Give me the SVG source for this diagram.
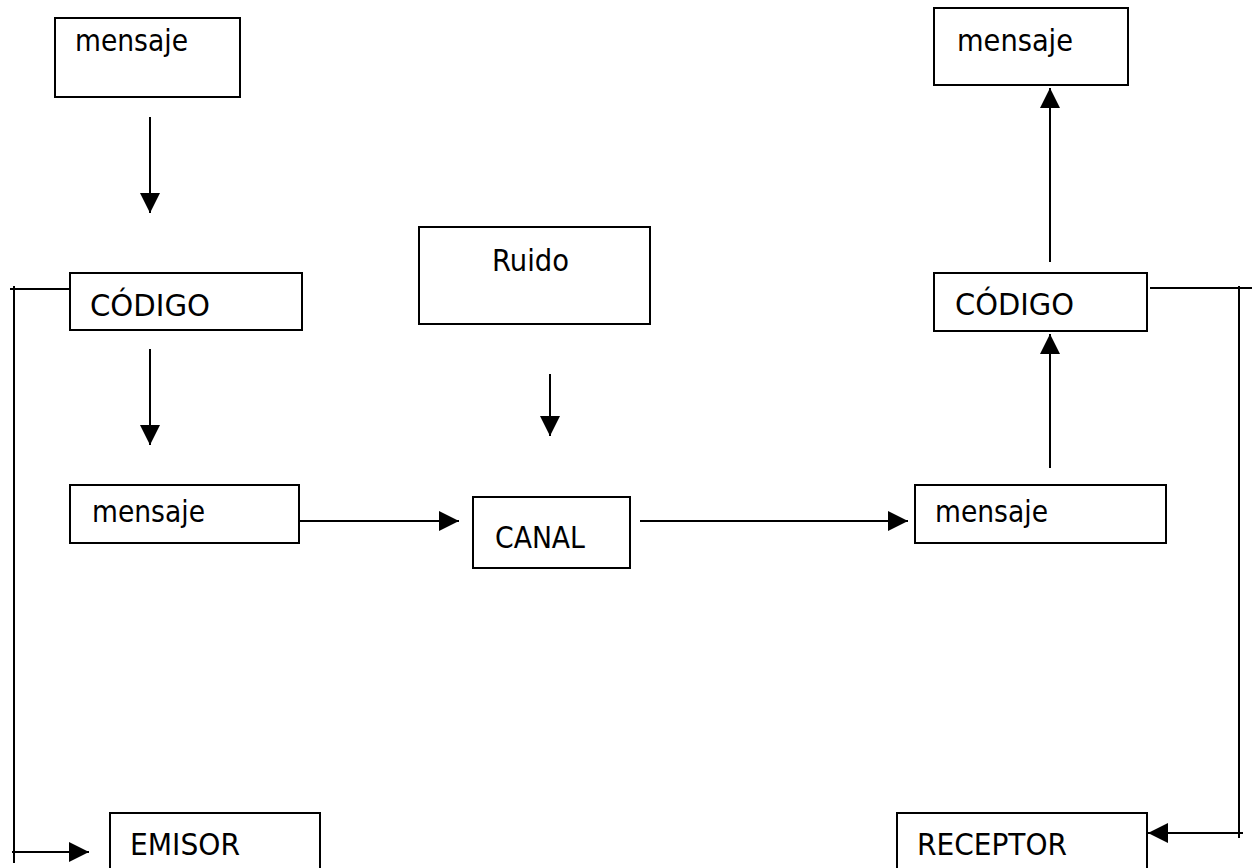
<svg xmlns="http://www.w3.org/2000/svg" width="1253" height="868" viewBox="0 0 1253 868">
<style>
.box{fill:#fff;stroke:#000;stroke-width:2}
.t{font-family:"DejaVu Sans","Liberation Sans",sans-serif;font-size:31px;fill:#000}
.c{stroke:#000;stroke-width:2;fill:none}
</style>
<defs>
<marker id="ah" markerUnits="userSpaceOnUse" markerWidth="20" markerHeight="20" refX="20" refY="10" orient="auto">
<path d="M0,0 L20,10 L0,20 z" fill="#000"/>
</marker>
</defs>
<rect width="1253" height="868" fill="#fff"/>
<g id="msg_tl"><rect class="box" x="55" y="18" width="185" height="79"/><text class="t" x="75" y="51" textLength="113" lengthAdjust="spacingAndGlyphs">mensaje</text></g>
<g id="cod_l"><rect class="box" x="70" y="273" width="232" height="57"/><text class="t" x="90" y="316" textLength="120" lengthAdjust="spacingAndGlyphs">CÓDIGO</text></g>
<g id="msg_ml"><rect class="box" x="70" y="485" width="229" height="58"/><text class="t" x="92" y="522" textLength="113" lengthAdjust="spacingAndGlyphs">mensaje</text></g>
<g id="ruido"><rect class="box" x="419" y="227" width="231" height="97"/><text class="t" x="492" y="271" textLength="77" lengthAdjust="spacingAndGlyphs">Ruido</text></g>
<g id="canal"><rect class="box" x="473" y="497" width="157" height="71"/><text class="t" x="495" y="548" textLength="90" lengthAdjust="spacingAndGlyphs">CANAL</text></g>
<g id="msg_mr"><rect class="box" x="915" y="485" width="251" height="58"/><text class="t" x="935" y="522" textLength="113" lengthAdjust="spacingAndGlyphs">mensaje</text></g>
<g id="cod_r"><rect class="box" x="934" y="273" width="213" height="58"/><text class="t" x="955" y="315" textLength="119" lengthAdjust="spacingAndGlyphs">CÓDIGO</text></g>
<g id="msg_tr"><rect class="box" x="934" y="8" width="194" height="77"/><text class="t" x="957" y="51" textLength="116" lengthAdjust="spacingAndGlyphs">mensaje</text></g>
<g id="emisor"><rect class="box" x="110" y="813" width="210" height="80"/><text class="t" x="130" y="855" textLength="110" lengthAdjust="spacingAndGlyphs">EMISOR</text></g>
<g id="receptor"><rect class="box" x="897" y="813" width="250" height="80"/><text class="t" x="917" y="855" textLength="150" lengthAdjust="spacingAndGlyphs">RECEPTOR</text></g>
<g id="connectors">
<line class="c" x1="150" y1="117" x2="150" y2="213" marker-end="url(#ah)"/>
<line class="c" x1="150" y1="349" x2="150" y2="445" marker-end="url(#ah)"/>
<line class="c" x1="300" y1="521" x2="459" y2="521" marker-end="url(#ah)"/>
<line class="c" x1="640" y1="521" x2="908" y2="521" marker-end="url(#ah)"/>
<line class="c" x1="550" y1="374" x2="550" y2="436" marker-end="url(#ah)"/>
<line class="c" x1="1050" y1="468" x2="1050" y2="334" marker-end="url(#ah)"/>
<line class="c" x1="1050" y1="262" x2="1050" y2="88" marker-end="url(#ah)"/>
<line class="c" x1="10" y1="289" x2="70" y2="289"/>
<line class="c" x1="14" y1="286" x2="14" y2="863"/>
<line class="c" x1="12" y1="852" x2="89" y2="852" marker-end="url(#ah)"/>
<line class="c" x1="1150" y1="288" x2="1252" y2="288"/>
<line class="c" x1="1239" y1="286" x2="1239" y2="838"/>
<line class="c" x1="1243" y1="833" x2="1148" y2="833" marker-end="url(#ah)"/>
</g>
</svg>
